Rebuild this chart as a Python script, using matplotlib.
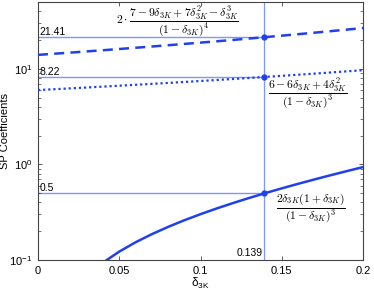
import matplotlib
matplotlib.use('Agg')
import matplotlib.pyplot as plt
from matplotlib.ticker import LogLocator, NullFormatter

plt.rcParams['font.family'] = ['Liberation Sans', 'DejaVu Sans']
plt.rcParams['mathtext.fontset'] = 'custom'
plt.rcParams['mathtext.rm'] = 'Liberation Sans'
plt.rcParams['mathtext.it'] = 'Liberation Sans:italic'
plt.rcParams['mathtext.bf'] = 'Liberation Sans:bold'

# values
delta = [0.0, 0.01, 0.02, 0.03, 0.04, 0.05, 0.06, 0.07, 0.08, 0.09, 0.10,
         0.11, 0.12, 0.13, 0.14, 0.15, 0.16, 0.17, 0.18, 0.19, 0.20]
coef_a = [0.0, 0.0208, 0.0434, 0.0677, 0.0940, 0.1225, 0.1532, 0.1862, 0.2219,
          0.2604, 0.3018, 0.3464, 0.3944, 0.4462, 0.5018, 0.5618, 0.6263,
          0.6957, 0.7705, 0.8509, 0.9375]
coef_b = [6.0, 6.122, 6.249, 6.381, 6.518, 6.660, 6.808, 6.962, 7.122, 7.289,
          7.462, 7.644, 7.833, 8.030, 8.236, 8.451, 8.676, 8.912, 9.158,
          9.417, 9.688]
coef_c = [14.0, 14.39, 14.79, 15.22, 15.66, 16.13, 16.61, 17.12, 17.66, 18.22,
          18.81, 19.42, 20.07, 20.76, 21.48, 22.24, 23.04, 23.88, 24.78,
          25.72, 26.72]

delta_sel = 0.139
sel_values = [0.5, 8.22, 21.41]
sel_labels = ['0.5', '8.22', '21.41']
xticks = [0, 0.05, 0.1, 0.15, 0.2]
xticklabels = ['0', '0.05', '0.1', '0.15', '0.2']

curve_col = '#2040f0'
ref_col = '#7f95ff'
axis_col = '#444444'

fig = plt.figure(figsize=(3.74, 2.90), dpi=100)
ax = fig.add_axes([0.1016, 0.1034, 0.8690, 0.8896])

# reference lines
ax.axvline(delta_sel, color=ref_col, lw=0.9, zorder=1)
for v, lab in zip(sel_values, sel_labels):
    ax.plot([0, delta_sel], [v, v], color=ref_col, lw=1.0, zorder=1)
    ax.text(0.0008, v * 1.01, lab, fontsize=7.5, va='bottom', ha='left', color='black')
ax.text(delta_sel - 0.001, 0.104, '0.139', fontsize=7.5, va='bottom', ha='right')

# curves
ax.plot(delta, coef_a, color=curve_col, lw=1.8, ls='-', zorder=3)
ax.plot(delta, coef_b, color=curve_col, lw=1.6, ls=(0, (1, 1.3)), zorder=3)
ax.plot(delta, coef_c, color=curve_col, lw=1.8, ls=(0, (4, 2.5)), zorder=3)
ax.plot([delta_sel] * 3, sel_values, 'o', color=curve_col, ms=3.5, zorder=4)

# formulas
ax.text(0.0855, 31.5,
        r'$2\cdot\dfrac{7-9\delta_{3K}+7\delta_{3K}^2-\delta_{3K}^3}{(1-\delta_{3K})^4}$',
        fontsize=8.4, ha='center', va='center', math_fontfamily='cm')
ax.text(0.1415, 5.6,
        r'$\dfrac{6-6\delta_{3K}+4\delta_{3K}^2}{(1-\delta_{3K})^3}$',
        fontsize=8.4, ha='left', va='center', math_fontfamily='cm')
ax.text(0.1465, 0.35,
        r'$\dfrac{2\delta_{3K}(1+\delta_{3K})}{(1-\delta_{3K})^3}$',
        fontsize=8.4, ha='left', va='center', math_fontfamily='cm')

ax.set_yscale('log')
ax.set_xlim(0, 0.2)
ax.set_ylim(0.1, 50)
ax.set_xticks(xticks)
ax.set_xticklabels(xticklabels)
ax.yaxis.set_major_locator(LogLocator(base=10, numticks=5))
ax.yaxis.set_minor_locator(LogLocator(base=10, subs=range(2, 10), numticks=20))
ax.yaxis.set_minor_formatter(NullFormatter())

ax.tick_params(which='both', direction='in', top=True, right=True,
               labelsize=8, colors=axis_col, labelcolor='black')
ax.tick_params(which='major', length=3, width=0.6, pad=4)
ax.tick_params(which='minor', length=2, width=0.5)
for s in ax.spines.values():
    s.set_color(axis_col)
    s.set_linewidth(0.8)

ax.set_ylabel('SP Coefficients', fontsize=8)
ax.yaxis.set_label_coords(-0.085, 0.5)
ax.set_xlabel(r'$\mathregular{\delta_{3K}}$', fontsize=8.5, labelpad=0)

fig.savefig('out.png', dpi=100)
